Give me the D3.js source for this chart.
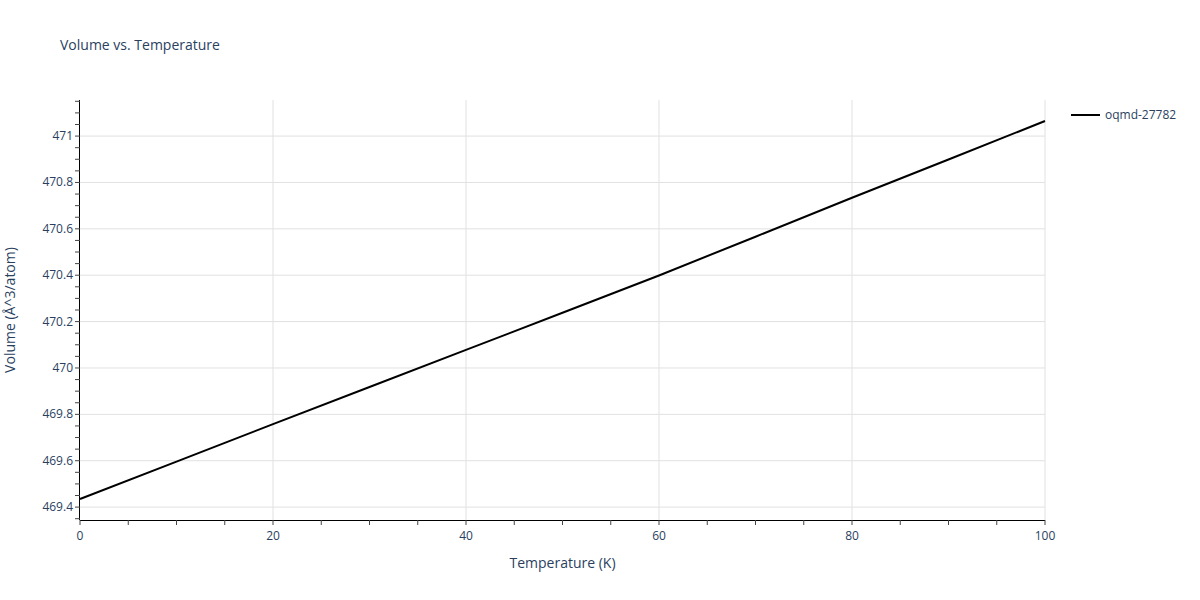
<!DOCTYPE html>
<html><head><meta charset="utf-8">
<script src="https://cdn.jsdelivr.net/npm/d3@7"></script>
<style>body{margin:0;background:#fff}text{font-family:"Open Sans",sans-serif}</style>
</head><body><svg id="c" width="1200" height="600"></svg>
<script>
const temperatures = [0, 10, 20, 30, 40, 50, 60, 70, 80, 90, 100];
const volumes = [469.435, 469.596, 469.758, 469.918, 470.078, 470.238, 470.399, 470.566, 470.734, 470.899, 471.065];
const xTicks = [0, 20, 40, 60, 80, 100];
const yTicks = [469.4, 469.6, 469.8, 470, 470.2, 470.4, 470.6, 470.8, 471];
const seriesName = "oqmd-27782";

const svg = d3.select("#c");
const L=80,R=1045,T=100,B=520;
const x = d3.scaleLinear().domain([0,100]).range([L,R]);
const y = d3.scaleLinear().domain([469.3444,471.1556]).range([B,T]);
const fc = "#2a3f5f";

svg.append("text").attr("x",60).attr("y",50).attr("font-size",14).attr("fill",fc).text("Volume vs. Temperature");

const g = svg.append("g");
xTicks.forEach(t=>{ if(t>0) g.append("line").attr("x1",x(t)).attr("x2",x(t)).attr("y1",T).attr("y2",B).attr("stroke","#e1e1e1"); });
yTicks.forEach(t=>g.append("line").attr("x1",L).attr("x2",R).attr("y1",y(t)).attr("y2",y(t)).attr("stroke","#e1e1e1"));

// x axis
g.append("line").attr("x1",L).attr("x2",R).attr("y1",B+0.5).attr("y2",B+0.5).attr("stroke","#000");
d3.range(0,101,5).forEach(t=>g.append("line").attr("x1",x(t)).attr("x2",x(t)).attr("y1",B).attr("y2",B+5).attr("stroke","#444"));
xTicks.forEach(t=>g.append("text").attr("x",x(t)).attr("y",B+20).attr("text-anchor","middle").attr("font-size",12).attr("fill",fc).text(t));
// y axis
g.append("line").attr("x1",L-0.5).attr("x2",L-0.5).attr("y1",T).attr("y2",B).attr("stroke","#000");
d3.range(469.35,471.151,0.05).forEach(t=>g.append("line").attr("x1",L-5).attr("x2",L).attr("y1",y(t)).attr("y2",y(t)).attr("stroke","#444"));
yTicks.forEach(t=>g.append("text").attr("x",L-7).attr("y",y(t)+4).attr("text-anchor","end").attr("font-size",12).attr("fill",fc).text(t));

svg.append("text").attr("x",(L+R)/2).attr("y",568).attr("text-anchor","middle").attr("font-size",14).attr("fill",fc).text("Temperature (K)");
svg.append("text").attr("transform",`translate(15,${(T+B)/2}) rotate(-90)`).attr("text-anchor","middle").attr("font-size",14).attr("fill",fc).text("Volume (Å^3/atom)");

const line = d3.line().x((d,i)=>x(temperatures[i])).y(d=>y(d));
svg.append("path").datum(volumes).attr("d",line).attr("fill","none").attr("stroke","#000").attr("stroke-width",2);

svg.append("line").attr("x1",1071).attr("x2",1100).attr("y1",115).attr("y2",115).attr("stroke","#000").attr("stroke-width",2);
svg.append("text").attr("x",1105).attr("y",119).attr("font-size",12).attr("fill",fc).text(seriesName);
</script></body></html>
